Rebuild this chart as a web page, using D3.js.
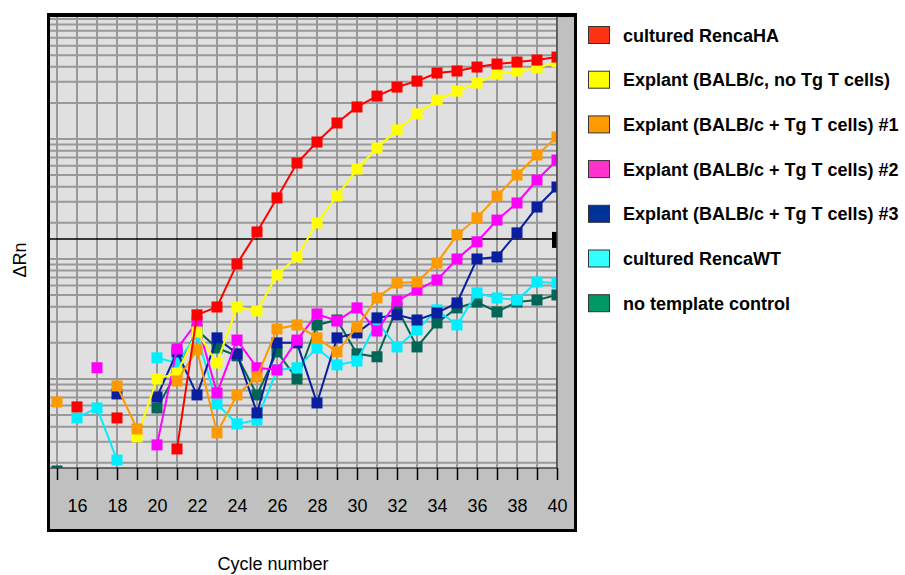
<!DOCTYPE html>
<html>
<head>
<meta charset="utf-8">
<script src="https://cdn.jsdelivr.net/npm/d3@7"></script>
<style>
  body { margin: 0; background: #fff; }
</style>
</head>
<body>
<div id="wrapper"></div>
<script>
// cycles 15..40, one value per cycle (null = not plotted on the log axis)
const cycles = d3.range(15, 41);
const xTicks = d3.range(15, 41);
const xLabels = d3.range(16, 41, 2);

const rencaHA = [null, 0.00585, null, 0.00473, null, null, 0.00261, 0.0342, 0.0398, 0.0909, 0.168, 0.323, 0.631,
    0.944, 1.36, 1.85, 2.28, 2.71, 3.04, 3.55, 3.69, 3.98, 4.22, 4.38, 4.55, 4.82];
const explantNoTg = [null, null, null, null, 0.00329, 0.0100, 0.0112, 0.0246, 0.0136, 0.0398, 0.0369, 0.0736, 0.104,
    0.200, 0.335, 0.562, 0.841, 1.19, 1.62, 2.11, 2.51, 2.93, 3.48, 3.69, 3.91, 4.38];
const explantTg1 = [0.00643, null, null, 0.00874, 0.00383, null, 0.00962, 0.0175, 0.00355, 0.00736, 0.0104, 0.0261, 0.0282,
    0.0220, 0.0168, 0.0271, 0.0473, 0.0631, 0.0643, 0.0926, 0.159, 0.220, 0.335, 0.501, 0.736, 1.04];
const explantTg2 = [null, null, 0.0124, null, null, 0.00282, 0.0178, 0.0299, 0.00764, 0.0211, 0.0124, 0.0119, 0.0211,
    0.0348, 0.0304, 0.0391, 0.0251, 0.0447, 0.0552, 0.0668, 0.100, 0.139, 0.211, 0.293, 0.455, 0.668];
const explantTg3 = [null, null, null, 0.00750, null, 0.00708, 0.0168, 0.00736, 0.0220, 0.0162, 0.00521, 0.0200, 0.0200,
    0.00631, 0.0220, 0.0242, 0.0323, 0.0342, 0.0310, 0.0355, 0.0430, 0.100, 0.104, 0.165, 0.271, 0.398];
const rencaWT = [null, 0.00473, 0.00573, 0.00211, null, 0.0150, 0.0136, 0.0233, 0.00619, 0.00422, 0.00455, 0.0119, 0.0124,
    0.0181, 0.0131, 0.0141, 0.0299, 0.0185, 0.0256, 0.0376, 0.0282, 0.0521, 0.0473, 0.0455, 0.0643, 0.0631];
const noTemplate = [0.00171, null, null, null, null, 0.00573, 0.0114, 0.0256, 0.0181, 0.0156, 0.00736, 0.0168, 0.0100,
    0.0282, 0.0310, 0.0162, 0.0153, 0.0391, 0.0185, 0.0293, 0.0391, 0.0438, 0.0362, 0.0438, 0.0455, 0.0501];

const threshold = 0.147;

const seriesNames = ["cultured RencaHA", "Explant (BALB/c, no Tg T cells)", "Explant (BALB/c + Tg T cells) #1",
    "Explant (BALB/c + Tg T cells) #2", "Explant (BALB/c + Tg T cells) #3", "cultured RencaWT", "no template control"];
const seriesValues = [rencaHA, explantNoTg, explantTg1, explantTg2, explantTg3, rencaWT, noTemplate];
const lineColors = ["#ff0000", "#ffff00", "#ff9900", "#ff00ff", "#0a1fa0", "#00eeff", "#006655"];
const legendColors = ["#ff3311", "#ffff00", "#ff9900", "#ff33cc", "#003399", "#33ffff", "#009966"];
// order the marks are painted in (bottom first)
const drawOrder = [6, 5, 4, 3, 1, 2, 0];

const dimension = {
    width: 905,
    height: 575,
    plot: { left: 50, top: 17, right: 557, bottom: 468 }
};

const svg = d3.select("#wrapper").append("svg")
    .attr("width", dimension.width)
    .attr("height", dimension.height)
    .style("font-family", "'Liberation Sans', Arial, sans-serif");

const xScaler = d3.scaleLinear()
    .domain([15, 40])
    .range([57, 557]);

// one decade = 120px, value 1 at y = 139
const yScaler = d3.scaleLog()
    .domain([0.00181, 10.4])
    .range([dimension.plot.bottom, dimension.plot.top]);

// frame
svg.append("rect")
    .attr("x", 47).attr("y", 13)
    .attr("width", 530).attr("height", 519)
    .attr("fill", "#000");
svg.append("rect")
    .attr("x", 50).attr("y", 17)
    .attr("width", 524).attr("height", 512)
    .attr("fill", "#c0c0c0");

const p = dimension.plot;
svg.append("defs").append("clipPath").attr("id", "plotclip")
    .append("rect")
    .attr("x", p.left).attr("y", p.top)
    .attr("width", p.right - p.left).attr("height", p.bottom - p.top);

const bounded = svg.append("g").attr("clip-path", "url(#plotclip)");

bounded.append("rect")
    .attr("x", p.left).attr("y", p.top)
    .attr("width", p.right - p.left).attr("height", p.bottom - p.top)
    .attr("fill", "#e0e0e0");

// log grid lines at every k * 10^n
const yGrid = [];
[0.001, 0.01, 0.1, 1, 10].forEach(dec => {
    for (let k = 1; k <= 9; k++) yGrid.push(dec * k);
});
bounded.append("g")
    .selectAll("line")
    .data(yGrid.filter(v => v >= 0.00181 && v <= 10.4))
    .join("line")
    .attr("x1", p.left).attr("x2", p.right)
    .attr("y1", d => yScaler(d)).attr("y2", d => yScaler(d))
    .attr("stroke", "#999")
    .attr("stroke-width", 2);

bounded.append("g")
    .selectAll("line")
    .data(xTicks)
    .join("line")
    .attr("x1", d => xScaler(d)).attr("x2", d => xScaler(d))
    .attr("y1", p.top).attr("y2", p.bottom)
    .attr("stroke", "#999")
    .attr("stroke-width", 2);

// threshold
bounded.append("line")
    .attr("x1", p.left).attr("x2", p.right)
    .attr("y1", yScaler(threshold)).attr("y2", yScaler(threshold))
    .attr("stroke", "#000")
    .attr("stroke-width", 1.5);

const marker = 11;

drawOrder.forEach(i => {
    const pts = cycles.map((c, j) => ({ c: c, v: seriesValues[i][j] }));
    const genLine = d3.line()
        .defined(d => d.v != null)
        .x(d => xScaler(d.c))
        .y(d => yScaler(d.v));

    bounded.append("path")
        .attr("d", genLine(pts))
        .attr("fill", "none")
        .attr("stroke", lineColors[i])
        .attr("stroke-width", 2);

    bounded.append("g")
        .selectAll("rect")
        .data(pts.filter(d => d.v != null))
        .join("rect")
        .attr("x", d => xScaler(d.c) - marker / 2)
        .attr("y", d => yScaler(d.v) - marker / 2)
        .attr("width", marker)
        .attr("height", marker)
        .attr("fill", lineColors[i]);
});

// threshold handle
svg.append("rect")
    .attr("x", p.right - 5).attr("y", yScaler(threshold) - 7)
    .attr("width", 5).attr("height", 16)
    .attr("fill", "#000");

// plot edge
svg.append("path")
    .attr("d", `M${p.right},${p.top}V${p.bottom}H${p.left}`)
    .attr("fill", "none")
    .attr("stroke", "#444")
    .attr("stroke-width", 1.5);

// x axis
const x_axis = d3.axisBottom(xScaler)
    .tickValues(xTicks)
    .tickSize(12)
    .tickFormat(d => xLabels.includes(d) ? d : "");

const xg = svg.append("g")
    .attr("transform", `translate(0, ${p.bottom})`)
    .call(x_axis);
xg.select(".domain").remove();
xg.selectAll(".tick line").attr("stroke", "#000").attr("stroke-width", 1.5);
xg.selectAll(".tick text")
    .attr("y", 28)
    .attr("dy", "0.9em")
    .attr("fill", "#000")
    .style("font-size", "18px")
    .style("font-family", "'Liberation Sans', Arial, sans-serif");

svg.append("text")
    .attr("x", 273)
    .attr("y", 570)
    .attr("text-anchor", "middle")
    .style("font-size", "18px")
    .text("Cycle number");

svg.append("text")
    .attr("transform", "translate(26, 260) rotate(-90)")
    .attr("text-anchor", "middle")
    .style("font-size", "18px")
    .text("ΔRn");

// legend
const legend = svg.append("g");
seriesNames.forEach((name, i) => {
    const cy = 35 + i * 44.7;
    legend.append("rect")
        .attr("x", 588.5).attr("y", cy - 8.5)
        .attr("width", 21).attr("height", 17)
        .attr("fill", legendColors[i])
        .attr("stroke", "#333")
        .attr("stroke-width", 1);
    legend.append("text")
        .attr("x", 623)
        .attr("y", cy + 6.5)
        .style("font-size", "18px")
        .style("font-weight", "bold")
        .text(name);
});
</script>
</body>
</html>
